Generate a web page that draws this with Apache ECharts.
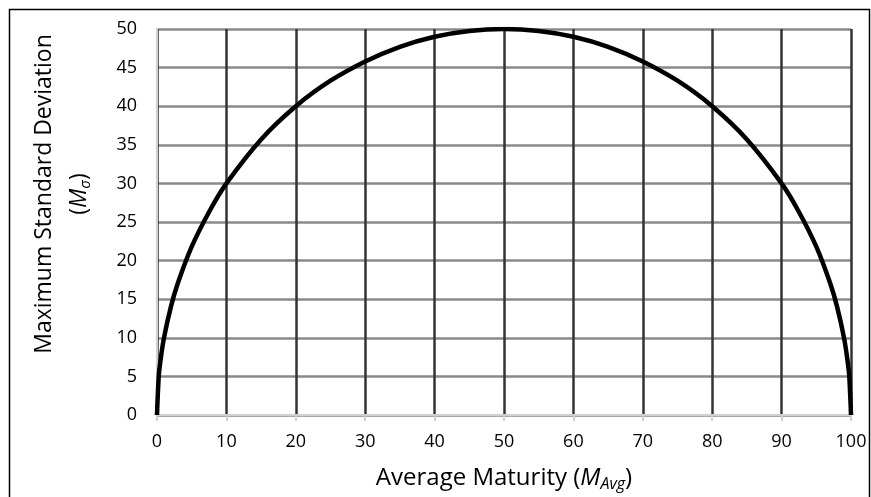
<!DOCTYPE html>
<html>
<head>
<meta charset="utf-8">
<script src="https://cdn.jsdelivr.net/npm/echarts@6/dist/echarts.min.js"></script>
<style>
html,body{margin:0;padding:0;background:#fff;}
#c{width:871px;height:497px;}
</style>
</head>
<body>
<div id="c"></div>
<script>
// Values
var avgMaturity = [0, 0.25, 0.5, 1, 2, 3, 5, 7.5, 10, 15, 20, 25, 30, 35, 40, 45, 50, 55, 60, 65, 70, 75, 80, 85, 90, 92.5, 95, 97, 98, 99, 99.5, 99.75, 100];
var maxStdDev = [0, 5.0, 7.05, 9.95, 14.0, 17.06, 21.8, 26.3, 30.0, 35.7, 40.0, 43.3, 45.8, 47.7, 49.0, 49.75, 50.0, 49.75, 49.0, 47.7, 45.8, 43.3, 40.0, 35.7, 30.0, 26.3, 21.8, 17.06, 14.0, 9.95, 7.05, 5.0, 0];
var xTicks = [0, 10, 20, 30, 40, 50, 60, 70, 80, 90, 100];
var yTicks = [0, 5, 10, 15, 20, 25, 30, 35, 40, 45, 50];

var pts = avgMaturity.map(function (x, i) { return [x, maxStdDev[i]]; });
var FONT = 'Open Sans';

var chart = echarts.init(document.getElementById('c'), null, {renderer: 'canvas'});
chart.setOption({
  animation: false,
  backgroundColor: '#ffffff',
  graphic: [{
    type: 'rect',
    shape: {x: 9.5, y: 9.5, width: 860, height: 495},
    style: {fill: 'none', stroke: '#000', lineWidth: 1.5},
    silent: true
  }],
  grid: {left: 157, right: 20, top: 29, bottom: 82, containLabel: false, outerBoundsMode: 'none'},
  xAxis: {
    type: 'value',
    min: xTicks[0], max: xTicks[xTicks.length - 1], interval: 10,
    name: 'Average Maturity ({i|M}{sub|Avg})',
    nameLocation: 'middle',
    nameGap: 49,
    nameTextStyle: {
      fontFamily: FONT, fontSize: 24, color: '#000',
      rich: {
        i: {fontFamily: FONT, fontSize: 24, fontStyle: 'italic', color: '#000'},
        sub: {fontFamily: FONT, fontSize: 16, fontStyle: 'italic', color: '#000', padding: [12, 0, 0, 0]}
      }
    },
    axisLine: {show: true, lineStyle: {color: '#d0d0d0', width: 2}},
    axisTick: {show: true, length: 6, lineStyle: {color: '#d0d0d0', width: 2}},
    axisLabel: {fontFamily: FONT, fontSize: 18, color: '#000', margin: 18},
    splitLine: {show: true, lineStyle: {color: '#333', width: 2.5}}
  },
  yAxis: {
    type: 'value',
    min: yTicks[0], max: yTicks[yTicks.length - 1], interval: 5,
    name: 'Maximum Standard Deviation\n({i|M}{sub|σ})',
    nameLocation: 'middle',
    nameRotate: 90,
    nameGap: 60,
    nameTextStyle: {
      fontFamily: FONT, fontSize: 23, color: '#000', lineHeight: 35, align: 'center',
      padding: [0, 0, 0, 56],
      rich: {
        i: {fontFamily: FONT, fontSize: 23, fontStyle: 'italic', color: '#000', lineHeight: 35},
        sub: {fontFamily: FONT, fontSize: 15, fontStyle: 'italic', color: '#000', lineHeight: 35, padding: [12, 0, 0, 0]}
      }
    },
    axisLine: {show: true, lineStyle: {color: '#d0d0d0', width: 2}},
    axisTick: {show: false},
    axisLabel: {fontFamily: FONT, fontSize: 18, color: '#000', margin: 20},
    splitLine: {show: true, lineStyle: {color: '#8a8a8a', width: 2.5}}
  },
  series: [{
    type: 'line',
    data: pts,
    smooth: 0.3,
    showSymbol: false,
    lineStyle: {color: '#000', width: 4.5},
    z: 5
  }]
});
</script>
</body>
</html>
